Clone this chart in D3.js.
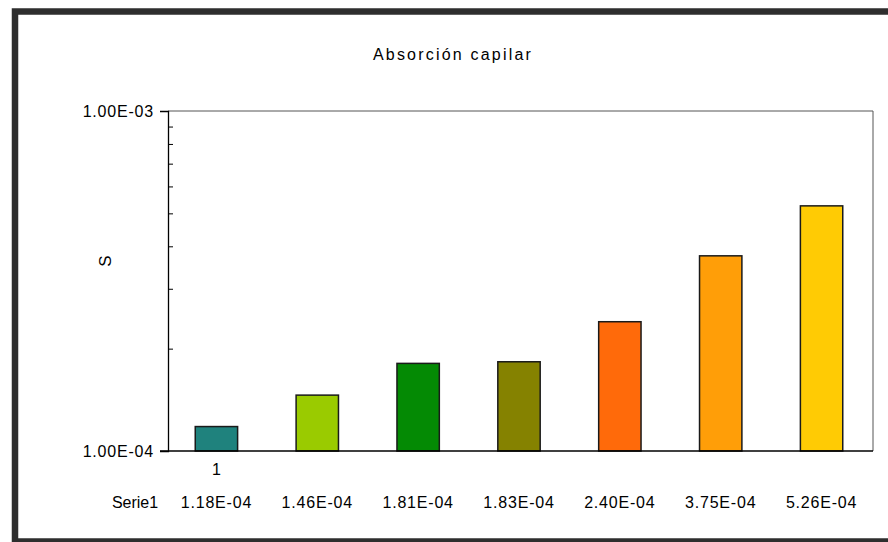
<!DOCTYPE html>
<html>
<head>
<meta charset="utf-8">
<script src="https://cdn.jsdelivr.net/npm/d3@7"></script>
<style>
  html, body { margin: 0; padding: 0; background: #fff; }
  svg { display: block; }
  text { font-family: "Liberation Sans", Arial, sans-serif; fill: #000; }
</style>
</head>
<body>
<svg id="chart" width="888" height="542"></svg>
<script>
const title = "Absorción capilar";
const yLabel = "S";
const categoryLabel = "1";
const seriesName = "Serie1";
const values = [1.18e-4, 1.46e-4, 1.81e-4, 1.83e-4, 2.40e-4, 3.75e-4, 5.26e-4];
const colors = ["#1f827d", "#9acb00", "#048a04", "#858200", "#ff6a0a", "#ff9e08", "#ffcb04"];
const yDomain = [1e-4, 1e-3];
const yTickValues = [1e-4, 1e-3];
const yMinorTicks = [2e-4, 3e-4, 4e-4, 5e-4, 6e-4, 7e-4, 8e-4, 9e-4];

function sciLabel(v) {
  const [m, e] = v.toExponential(2).split("e");
  const n = parseInt(e, 10);
  return m + "E" + (n < 0 ? "-" : "") + String(Math.abs(n)).padStart(2, "0");
}

const svg = d3.select("#chart");
const plot = { left: 168, right: 873, top: 111, bottom: 451 };

// outer frame
svg.append("rect").attr("x", 15).attr("y", 11.5).attr("width", 900).attr("height", 530)
  .attr("fill", "#fff").attr("stroke", "#2e2e2e").attr("stroke-width", 6.5);

// title
svg.append("text").attr("x", 453).attr("y", 60).attr("text-anchor", "middle")
  .style("font-size", "16px").style("letter-spacing", "2.2px").text(title);

const x = d3.scaleBand().domain(d3.range(values.length))
  .range([plot.left - 2, plot.right - 1]).paddingInner(0.58).paddingOuter(0.29);
const y = d3.scaleLog().domain(yDomain).range([plot.bottom, plot.top]);

// plot area border (top and right)
svg.append("path")
  .attr("d", `M${plot.left},${plot.top}H${plot.right}V${plot.bottom}`)
  .attr("fill", "none").attr("stroke", "#555").attr("stroke-width", 1);

// bars
svg.append("g").selectAll("rect").data(values).join("rect")
  .attr("x", (d, i) => x(i)).attr("width", x.bandwidth())
  .attr("y", d => y(d)).attr("height", d => plot.bottom - y(d))
  .attr("fill", (d, i) => colors[i]).attr("stroke", "#1a1a1a").attr("stroke-width", 1.5);

// y axis (major ticks outside)
const yAxis = d3.axisLeft(y).tickValues(yTickValues).tickFormat(sciLabel).tickSize(8).tickPadding(6);
const gy = svg.append("g").attr("transform", `translate(${plot.left},0)`).call(yAxis);
gy.select(".domain").attr("stroke", "#000").attr("stroke-width", 1.3);
gy.selectAll(".tick line").attr("stroke", "#000");
gy.selectAll(".tick text").style("font-size", "16px").style("letter-spacing", "0.8px")
  .style("font-family", "'Liberation Sans', Arial, sans-serif");

// minor ticks inside
const yMinor = d3.axisRight(y).tickValues(yMinorTicks).tickFormat("").tickSize(5);
const gm = svg.append("g").attr("transform", `translate(${plot.left},0)`).call(yMinor);
gm.select(".domain").remove();
gm.selectAll(".tick line").attr("stroke", "#000");

// x axis line
svg.append("line").attr("x1", plot.left - 8).attr("x2", plot.right)
  .attr("y1", plot.bottom).attr("y2", plot.bottom).attr("stroke", "#000").attr("stroke-width", 1.3);

// y label
svg.append("text").attr("transform", "translate(107,261) rotate(-90)")
  .attr("text-anchor", "middle").attr("dominant-baseline", "middle")
  .style("font-size", "17px").text(yLabel);

// category label
svg.append("text").attr("x", x(0) + x.bandwidth() / 2).attr("y", 475)
  .attr("text-anchor", "middle").style("font-size", "16px").text(categoryLabel);

// data table row
svg.append("text").attr("x", 135).attr("y", 508).attr("text-anchor", "middle")
  .style("font-size", "16px").text(seriesName);
svg.append("g").selectAll("text").data(values).join("text")
  .attr("x", (d, i) => x(i) + x.bandwidth() / 2).attr("y", 508)
  .attr("text-anchor", "middle").style("font-size", "16px").style("letter-spacing", "0.8px")
  .text(d => sciLabel(d));
</script>
</body>
</html>
